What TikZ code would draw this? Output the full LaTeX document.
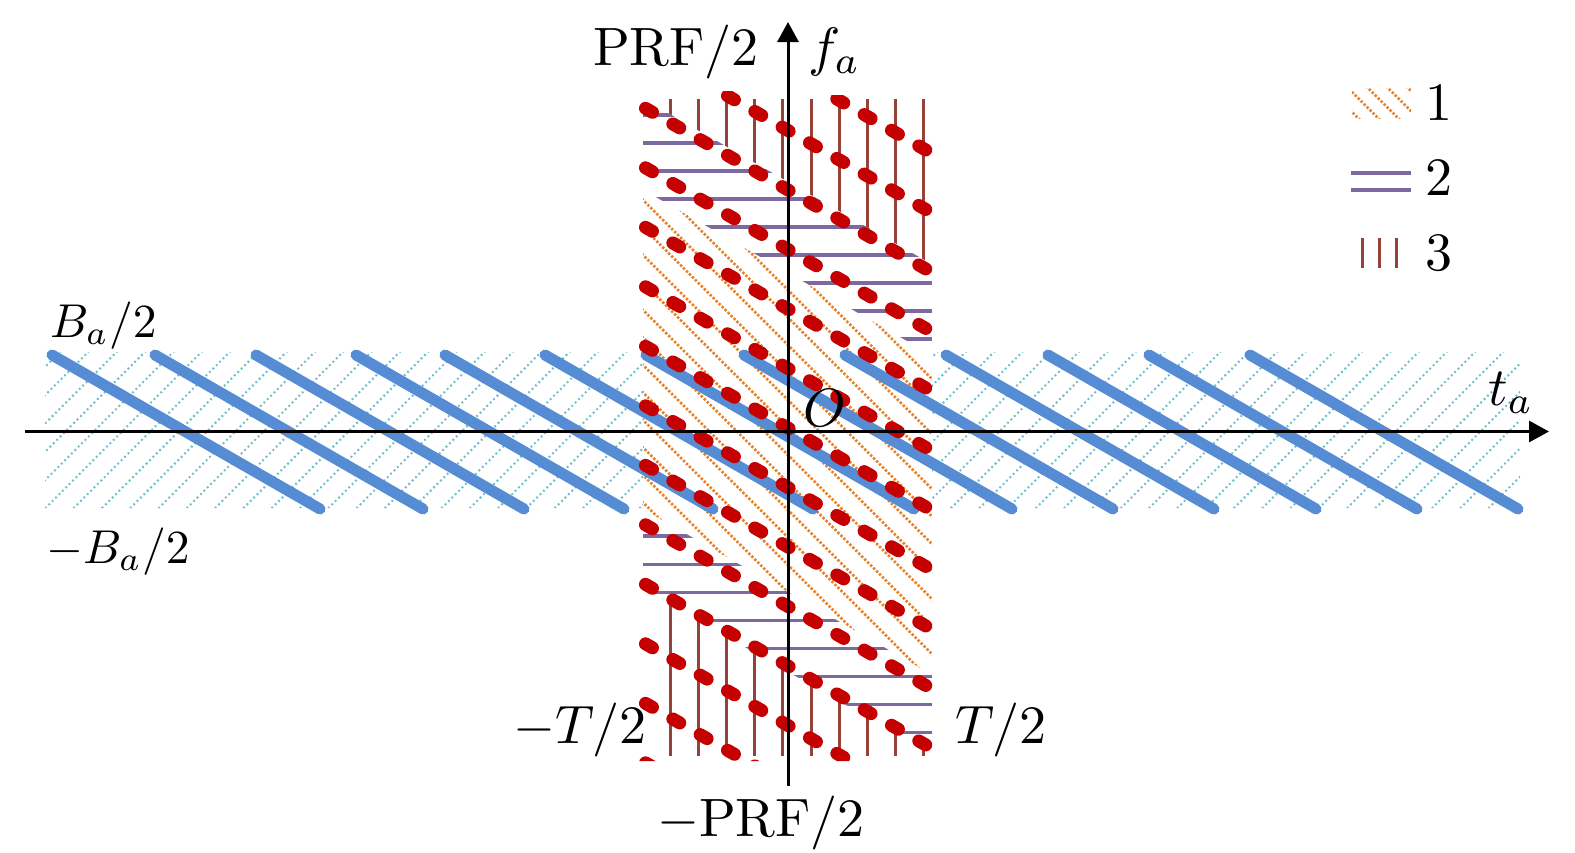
\documentclass[tikz,border=0pt]{standalone}
\usetikzlibrary{arrows.meta}
\definecolor{tealc}{RGB}{104,188,204}
\definecolor{orangec}{RGB}{232,130,40}
\definecolor{purplec}{RGB}{125,105,160}
\definecolor{brownc}{RGB}{150,66,56}
\definecolor{redc}{RGB}{196,0,0}
\definecolor{bluec}{RGB}{86,140,212}
\newcommand{\bigtxt}[1]{\scalebox{5.4}{#1}}
\newcommand{\midtxt}[1]{\scalebox{4.75}{#1}}
\tikzset{
  tealdot/.style={draw=tealc, line width=2pt, dash pattern=on 1.8pt off 3pt},
  orangedot/.style={draw=orangec, line width=2.6pt, dash pattern=on 2.4pt off 1.8pt},
  purpleline/.style={draw=purplec, line width=3.2pt},
  brownline/.style={draw=brownc, line width=3pt},
  blueline/.style={draw=bluec, line width=11pt, line cap=round},
  reddash/.style={draw=redc, line width=13pt, line cap=round, dash pattern=on 8pt off 23.5pt},
  axisline/.style={draw=black, line width=3pt, -{Triangle[length=20pt,width=21pt]}},
  lab/.style={font=\fontsize{10}{12}\selectfont, inner sep=0pt, anchor=base west}
}
\begin{document}
\begin{tikzpicture}[x=1pt,y=-1pt]
\useasboundingbox (0,0) rectangle (1575,852);
% teal hatched band
\begin{scope}
  \clip (45,352) rectangle (643,508) (932,352) rectangle (1520,508);
  \foreach \k in {-1,...,58} {
    \pgfmathsetmacro\c{412+28.3*\k}
    \draw[tealdot] ({\c-300},300) -- ({\c-560},560);
  }
\end{scope}
% region 1 (orange)
\begin{scope}
  \clip (643,189.7) -- (932,355.3) -- (932,674.7) -- (643,509.1) -- cycle;
  \foreach \k in {-12,...,18} {
    \pgfmathsetmacro\c{-443+27.5*\k}
    \draw[orangedot] (600,{600+\c}) -- (960,{960+\c});
  }
\end{scope}
% region 2 (purple)
\begin{scope}
  \clip (643,98.7) -- (932,264.3) -- (932,355.3) -- (643,189.7) -- cycle;
  \foreach \k in {0,...,8} {
    \draw[purpleline] (643,{115+28*\k}) -- (932,{115+28*\k});
  }
\end{scope}
\begin{scope}
  \clip (643,509.1) -- (932,674.7) -- (932,754.3) -- (643,588.7) -- cycle;
  \foreach \k in {0,...,7} {
    \draw[purpleline] (643,{536+28.1*\k}) -- (932,{536+28.1*\k});
  }
\end{scope}
% region 3 (brown)
\begin{scope}
  \clip (643,99) -- (932,99) -- (932,264.3) -- (643,98.7) -- cycle;
  \foreach \k in {0,...,9} {
    \draw[brownline] ({670+28.2*\k},99) -- ({670+28.2*\k},300);
  }
\end{scope}
\begin{scope}
  \clip (643,588.7) -- (932,754.3) -- (932,756) -- (643,756) -- cycle;
  \foreach \k in {0,...,9} {
    \draw[brownline] ({670+28.2*\k},560) -- ({670+28.2*\k},756);
  }
\end{scope}
% blue lines
\foreach \s in {52,155,256,356,445,545,646,744,845,946,1048,1149,1250} {
  \draw[blueline] (\s,355) -- ({\s+268},509);
}
% red dashed lines
\begin{scope}
  \clip (630,91) -- (790,91) -- (790,95) -- (900,95) -- (900,99) -- (944,99) -- (944,761) -- (630,761) -- cycle;
  \foreach \k in {-3,...,11} {
    \pgfmathsetmacro\yy{108.3+59.5*\k}
    \draw[reddash] (645.5,\yy) -- (936,{\yy+166.5});
  }
\end{scope}
% axes
\coordinate (xs) at (25,431.5);
\coordinate (xe) at (1549,431.5);
\coordinate (ys) at (788,786);
\coordinate (ye) at (788,22);
\draw[axisline] (xs) -- (xe);
\draw[axisline] (ys) -- (ye);
% labels
\node[lab] (prf) at (593,65) {\bigtxt{$\mathrm{PRF}/2$}};
\node[lab] (fa) at (808,65) {\bigtxt{$f_a$}};
\node[lab] (ta) at (1488,405) {\bigtxt{$t_a$}};
\node[lab] (o) at (803,426) {\bigtxt{$O$}};
\node[lab] (ba) at (50,337) {\midtxt{$B_{a}/2$}};
\node[lab] (mba) at (46,563) {\midtxt{$-B_{a}/2$}};
\node[lab] (mt) at (513,743) {\bigtxt{$-T/2$}};
\node[lab] (pt) at (955,743) {\bigtxt{$T/2$}};
\node[lab] (mprf) at (657,836) {\bigtxt{$-\mathrm{PRF}/2$}};
% legend
\begin{scope}
  \clip (1352,88) rectangle (1411,118);
  \foreach \k in {-4,...,4} {
    \draw[orangedot] ({1360+20*\k},80) -- ({1400+20*\k},120);
  }
\end{scope}
\draw[purpleline] (1351,173) -- (1411,173);
\draw[purpleline] (1351,190) -- (1411,190);
\draw[brownline] (1362,238) -- (1362,268);
\draw[brownline] (1379,238) -- (1379,268);
\draw[brownline] (1396,238) -- (1396,268);
\node[lab] (l1) at (1425,120) {\bigtxt{1}};
\node[lab] (l2) at (1425,195) {\bigtxt{2}};
\node[lab] (l3) at (1425,270) {\bigtxt{3}};
\end{tikzpicture}
\end{document}
